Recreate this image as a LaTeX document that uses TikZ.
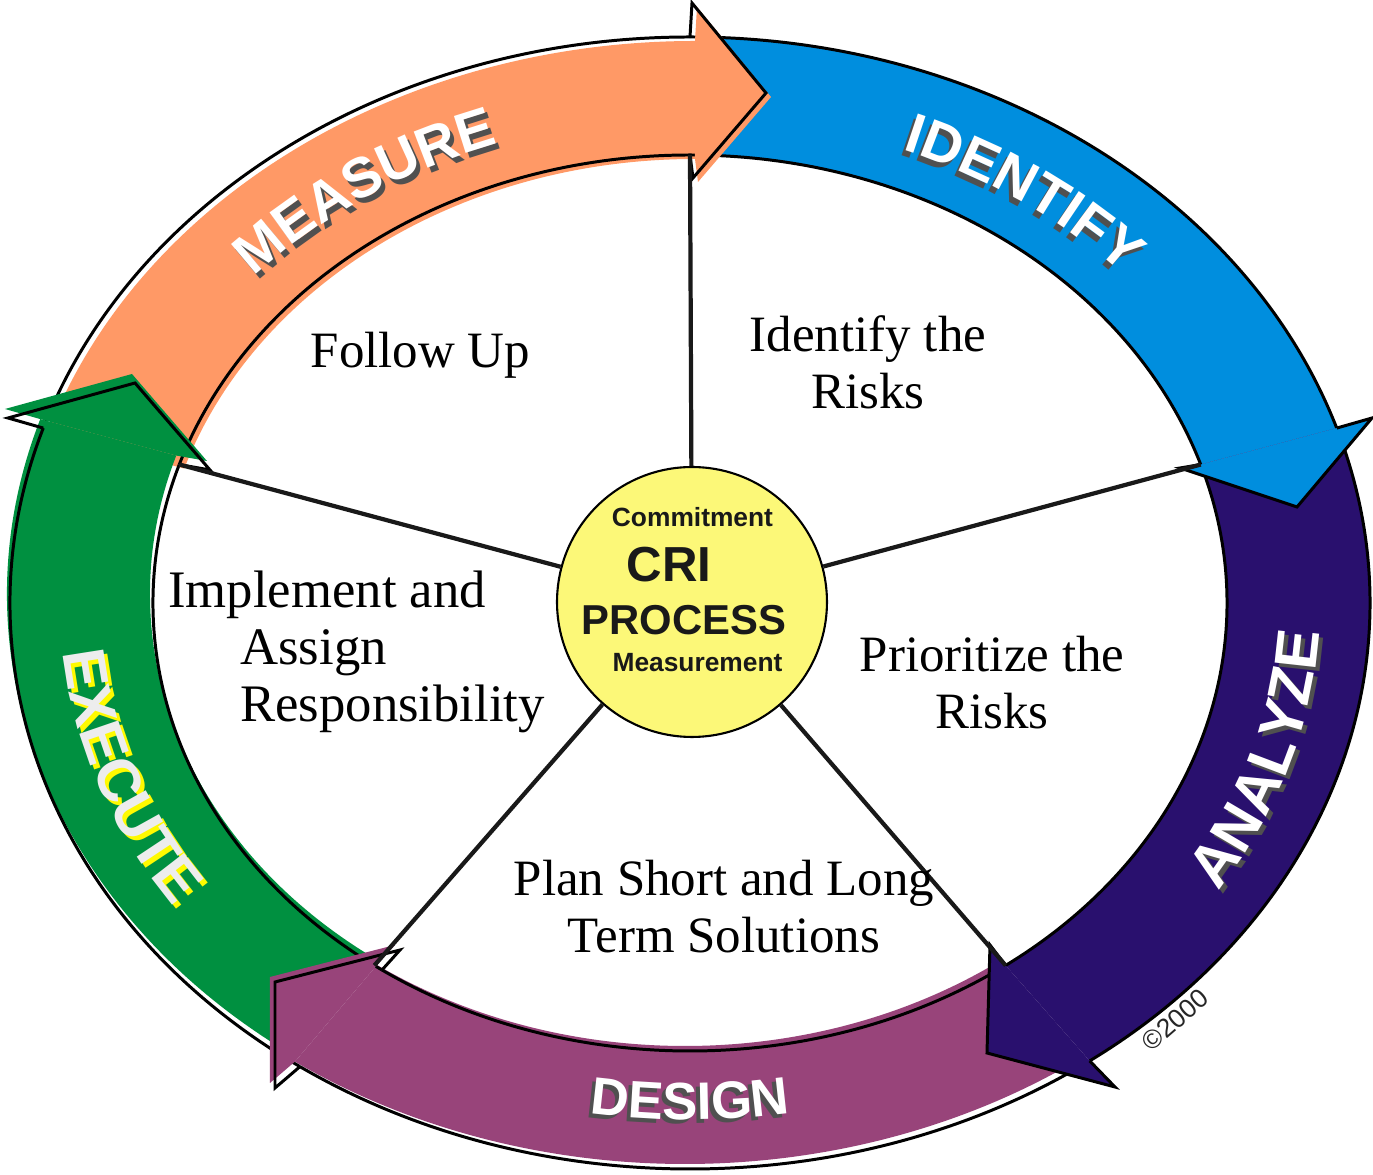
\documentclass[tikz,border=0pt]{standalone}
\usepackage{fontspec}
\setmainfont{Liberation Serif}
\setsansfont{Liberation Sans}
\usepackage{tikz}
\usetikzlibrary{decorations.text, positioning}

\definecolor{measureorange}{RGB}{255,153,102}
\definecolor{identifyblue}{RGB}{0,142,222}
\definecolor{analyzeindigo}{RGB}{41,16,110}
\definecolor{designplum}{RGB}{152,68,122}
\definecolor{executegreen}{RGB}{0,144,64}
\definecolor{crigold}{RGB}{252,248,120}
\definecolor{shadowgray}{RGB}{80,80,80}
\definecolor{shadowyellow}{RGB}{255,250,0}

\newcommand{\bandfont}{\sffamily\bfseries\fontsize{34}{34}\selectfont}
\newcommand{\topbandfont}{\sffamily\bfseries\fontsize{32}{32}\selectfont}
\newcommand{\designfont}{\sffamily\bfseries\fontsize{30}{30}\selectfont}

\tikzstyle{rim} = [draw=black, line width=1.7pt, line join=miter]
\tikzstyle{spoke} = [draw=black!90, line width=2.4pt]
\tikzstyle{hubdisc} = [circle, 
draw=black, 
line width=1.2pt, 
fill=crigold, 
minimum size=5.4cm, 
inner sep=0pt]
\tikzstyle{hubtext} = [anchor=base, inner sep=0pt, text=black!90]
\tikzstyle{steptext} = [inner sep=0pt, 
align=center, 
font=\fontsize{29}{32.4}\selectfont]

\begin{document}
\begin{tikzpicture}[x=0.02cm, y=0.02cm]

        \fill [white] (-690,-572) rectangle (683,603);
        \useasboundingbox (-690,-572) rectangle (683,603);

        % band bodies
        \fill [measureorange, shift={(5,-4)}] (162:680 and 566) arc[start angle=162, end angle=90, x radius=680, y radius=566] -- (90:537 and 448) arc[start angle=90, end angle=162, x radius=537, y radius=448] -- cycle;
        \draw [rim] (162:680 and 566) arc[start angle=162, end angle=90, x radius=680, y radius=566];
        \draw [rim] (162:537 and 448) arc[start angle=162, end angle=90, x radius=537, y radius=448];

        \fill [identifyblue] (89.4:680 and 566) arc[start angle=89.4, end angle=18, x radius=680, y radius=566] -- (18:537 and 448) arc[start angle=18, end angle=89.4, x radius=537, y radius=448] -- cycle;
        \draw [rim] (90:680 and 566) arc[start angle=90, end angle=18, x radius=680, y radius=566];
        \draw [rim] (90:537 and 448) arc[start angle=90, end angle=18, x radius=537, y radius=448];

        \fill [analyzeindigo] (18:680 and 566) arc[start angle=18, end angle=-54, x radius=680, y radius=566] -- (-54:537 and 448) arc[start angle=-54, end angle=18, x radius=537, y radius=448] -- cycle;
        \draw [rim] (18:680 and 566) arc[start angle=18, end angle=-54, x radius=680, y radius=566];
        \draw [rim] (18:537 and 448) arc[start angle=18, end angle=-54, x radius=537, y radius=448];

        \fill [designplum, shift={(-5,5)}] (-54:680 and 566) arc[start angle=-54, end angle=-125, x radius=680, y radius=566] -- (-125:537 and 448) arc[start angle=-125, end angle=-54, x radius=537, y radius=448] -- cycle;
        \draw [rim] (-54:680 and 566) arc[start angle=-54, end angle=-125, x radius=680, y radius=566];
        \draw [rim] (-54:537 and 448) arc[start angle=-54, end angle=-125, x radius=537, y radius=448];

        \fill [executegreen, shift={(-3,9)}] (235:680 and 566) arc[start angle=235, end angle=162, x radius=680, y radius=566] -- (162:537 and 448) arc[start angle=162, end angle=235, x radius=537, y radius=448] -- cycle;
        \draw [rim] (235:680 and 566) arc[start angle=235, end angle=162, x radius=680, y radius=566];
        \draw [rim] (235:537 and 448) arc[start angle=235, end angle=162, x radius=537, y radius=448];

        % arrow heads
        \fill [measureorange, shift={(5,-4)}] (90:680 and 566) -- (2,600) -- (76,510) -- (3,425) -- (90:537 and 448) -- cycle;
        \draw [rim] (90:680 and 566) -- (2,600) -- (76,510) -- (3,425) -- (90:537 and 448);

        \fill [identifyblue] (18:680 and 566) -- (682,185) -- (607,96) -- (490,135) -- (18:537 and 448) -- cycle;
        \draw [rim] (18:680 and 566) -- (682,185) -- (607,96) -- (490,135) -- (18:537 and 448);

        \fill [analyzeindigo] (-54:680 and 566) -- (425,-484) -- (297,-450) -- (300,-342) -- (-54:537 and 448) -- cycle;
        \draw [rim] (-54:680 and 566) -- (425,-484) -- (297,-450) -- (300,-342) -- (-54:537 and 448);

        \fill [designplum, shift={(-5,5)}] (-125:680 and 566) -- (-415,-485) -- (-415,-379) -- (-290,-347) -- (-125:537 and 448) -- cycle;
        \draw [rim] (-125:680 and 566) -- (-415,-485) -- (-415,-379) -- (-290,-347) -- (-125:537 and 448);

        \fill [executegreen, shift={(-3,9)}] (162:680 and 566) -- (-682,185) -- (-555,220) -- (-480,133) -- (162:537 and 448) -- cycle;
        \draw [rim] (162:680 and 566) -- (-682,185) -- (-555,220) -- (-480,133) -- (162:537 and 448);

        % band titles, shadow first
        \path [decorate, shift={(4,-5)}, decoration={text along path, text align=center, text color=shadowgray, text={|\topbandfont|MEASURE}}] (163:587 and 486) arc[start angle=163, end angle=87, x radius=587, y radius=486];
        \path [decorate, decoration={text along path, text align=center, text color=white, text={|\topbandfont|MEASURE}}] (163:587 and 486) arc[start angle=163, end angle=87, x radius=587, y radius=486];

        \path [decorate, shift={(-4,-5)}, decoration={text along path, text align=center, text color=shadowgray, text={|\topbandfont|IDENTIFY}}] (92:587 and 486) arc[start angle=92, end angle=16, x radius=587, y radius=486];
        \path [decorate, decoration={text along path, text align=center, text color=white, text={|\topbandfont|IDENTIFY}}] (92:587 and 486) arc[start angle=92, end angle=16, x radius=587, y radius=486];

        \path [decorate, shift={(4,-4)}, decoration={text along path, text align=center, text color=shadowgray, text={|\bandfont|ANALYZE}}] (-49.4:630 and 529) arc[start angle=-49.4, end angle=14.6, x radius=630, y radius=529];
        \path [decorate, decoration={text along path, text align=center, text color=white, text={|\bandfont|ANALYZE}}] (-49.4:630 and 529) arc[start angle=-49.4, end angle=14.6, x radius=630, y radius=529];

        \path [decorate, shift={(-4,-4)}, decoration={text along path, text align=center, text color=shadowgray, text={|\designfont|DESIGN}}] (-120:625 and 517) arc[start angle=-120, end angle=-60, x radius=625, y radius=517];
        \path [decorate, decoration={text along path, text align=center, text color=white, text={|\designfont|DESIGN}}] (-120:625 and 517) arc[start angle=-120, end angle=-60, x radius=625, y radius=517];

        \path [decorate, shift={(4,-4)}, decoration={text along path, text align=center, text color=shadowyellow, text={|\bandfont|EXECUTE}}] (168:630 and 529) arc[start angle=168, end angle=231, x radius=630, y radius=529];
        \path [decorate, decoration={text along path, text align=center, text color=black!7, text={|\bandfont|EXECUTE}}] (168:630 and 529) arc[start angle=168, end angle=231, x radius=630, y radius=529];

        % hub and spokes
        \node (hub) [hubdisc] at (2,1) {};
        \coordinate (sp1) at (90:537 and 448);
        \coordinate (sp2) at (18:537 and 448);
        \coordinate (sp3) at (-54:537 and 448);
        \coordinate (sp4) at (-126:537 and 448);
        \coordinate (sp5) at (162:537 and 448);
        \draw [spoke] (hub) -- (sp1);
        \draw [spoke] (hub) -- (sp2);
        \draw [spoke] (hub) -- (sp3);
        \draw [spoke] (hub) -- (sp4);
        \draw [spoke] (hub) -- (sp5);

        \node (commit) [hubtext, font=\sffamily\bfseries\fontsize{15}{15}\selectfont] at (2.5,76) {Commitment};
        \node (cri) [hubtext, font=\sffamily\bfseries\fontsize{28}{28}\selectfont] at (-21,21) {CRI};
        \node (process) [hubtext, font=\sffamily\bfseries\fontsize{23.8}{24}\selectfont] at (-6,-32) {PROCESS};
        \node (measurement) [hubtext, font=\sffamily\bfseries\fontsize{15}{15}\selectfont] at (7.5,-69) {Measurement};

        % the five steps
        \node (followup) [steptext, anchor=base] at (-269.5,235) {Follow Up};
        \node (identify) [steptext] at (178,240.5) {Identify the\\Risks};
        \node (prioritize) [steptext] at (302,-79.5) {Prioritize the\\Risks};
        \node (plan) [steptext] at (34,-303.5) {Plan Short and Long\\Term Solutions};
        \node (implement) [steptext, align=left, anchor=west, font=\fontsize{30}{32.4}\selectfont] at (-522,-49) {Implement and\\\hspace*{1.44cm}Assign\\\hspace*{1.44cm}Responsibility};

        \node (copyright) [rotate=41, text=black!85, font=\sffamily\fontsize{15}{15}\selectfont] at (485,-417) {©2000};

    \end{tikzpicture}
\end{document}
